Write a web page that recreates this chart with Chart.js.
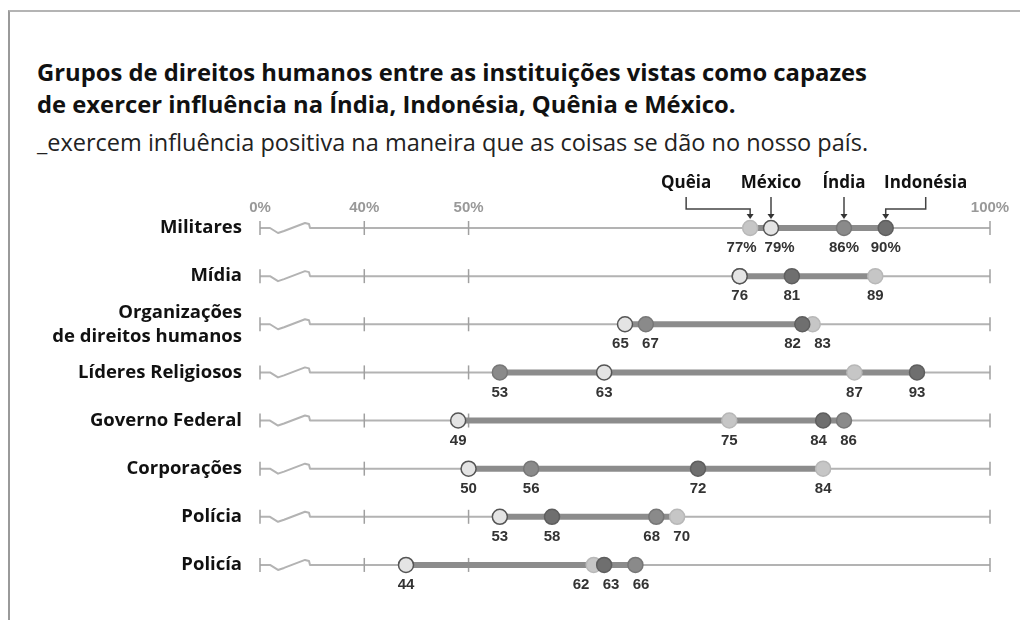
<!DOCTYPE html>
<html>
<head>
<meta charset="utf-8">
<script src="https://cdn.jsdelivr.net/npm/chart.js@4"></script>
<style>
  body { margin: 0; background: #fff; width: 1020px; height: 620px; overflow: hidden; position: relative; font-family: 'Open Sans', sans-serif; }
  .frame { position: absolute; left: 8px; top: 10px; width: 1012px; height: 610px; border-top: 2px solid #b4b4b4; border-left: 2px solid #9a9a9a; box-sizing: border-box; }
  .title { position: absolute; left: 37px; top: 56px; font-size: 23.8px; line-height: 32px; font-weight: 700; color: #111; white-space: nowrap; }
  .subtitle { position: absolute; left: 37px; top: 127px; font-size: 23.5px; line-height: 30px; color: #222; white-space: nowrap; }
  #wrap { position: absolute; left: 0; top: 160px; width: 1020px; height: 460px; }
</style>
</head>
<body>
<div class="frame"></div>
<div class="title">Grupos de direitos humanos entre as instituições vistas como capazes<br>de exercer influência na Índia, Indonésia, Quênia e México.</div>
<div class="subtitle">_exercem influência positiva na maneira que as coisas se dão no nosso país.</div>
<div id="wrap"><canvas id="chart" width="1020" height="460"></canvas></div>
<script>
// categorias (linhas) e valores por país
const categories = ['Militares', 'Mídia', ['Organizações', 'de direitos humanos'], 'Líderes Religiosos',
    'Governo Federal', 'Corporações', 'Polícia', 'Policía'];
const countries = ['Quêia', 'México', 'Índia', 'Indonésia'];
const quenia    = [77, 89, 83, 87, 75, 84, 70, 62];
const mexico    = [79, 76, 65, 63, 49, 50, 53, 44];
const india     = [86, 76, 67, 53, 86, 56, 68, 66];
const indonesia = [90, 81, 82, 93, 84, 72, 58, 63];
// eixo quebrado: "0%" fica no início da escala
const tickValues = [30, 40, 50, 100];
const tickLabels = ['0%', '40%', '50%', '100%'];

const seriesValues = [quenia, mexico, india, indonesia];
const fills   = ['#c6c6c6', '#e4e4e4', '#8a8a8a', '#6f6f6f'];
const borders = ['#b8b8b8', '#555555', '#777777', '#5e5e5e'];
const orders  = [3, 0, 2, 1];

const numFont = 'bold 15px "Liberation Sans", Arial, sans-serif';

function toPoints(vals) {
    return vals.map((v, i) => ({ x: v, y: i }));
}

// linhas de fundo, quebra do eixo e barra de intervalo
const rowsPlugin = {
    id: 'rows',
    beforeDatasetsDraw(chart) {
        const ctx = chart.ctx;
        const xs = chart.scales.x, ys = chart.scales.y;
        const x0 = xs.getPixelForValue(30), x1 = xs.getPixelForValue(100);
        ctx.save();
        categories.forEach((c, i) => {
            const y = ys.getPixelForValue(i);
            ctx.strokeStyle = '#b3b3b3';
            ctx.lineWidth = 2;
            ctx.lineJoin = 'round';
            ctx.beginPath();
            ctx.moveTo(x0, y);
            ctx.lineTo(x0 + 10, y);
            ctx.lineTo(x0 + 18, y + 5);
            ctx.lineTo(x0 + 24, y + 3);
            ctx.lineTo(x0 + 45, y - 5);
            ctx.lineTo(x0 + 49, y - 4);
            ctx.lineTo(x0 + 50, y);
            ctx.lineTo(x1, y);
            ctx.stroke();
            // marcas
            ctx.strokeStyle = '#a0a0a0';
            ctx.lineWidth = 1.5;
            [30, 40, 50, 100].forEach(v => {
                const px = xs.getPixelForValue(v);
                ctx.beginPath();
                ctx.moveTo(px, y - 7);
                ctx.lineTo(px, y + 7);
                ctx.stroke();
            });
            // intervalo entre mínimo e máximo
            const vals = seriesValues.map(s => s[i]);
            const lo = Math.min(...vals), hi = Math.max(...vals);
            ctx.strokeStyle = '#8c8c8c';
            ctx.lineWidth = 6;
            ctx.lineCap = 'butt';
            ctx.beginPath();
            ctx.moveTo(xs.getPixelForValue(lo), y);
            ctx.lineTo(xs.getPixelForValue(hi), y);
            ctx.stroke();
        });
        ctx.restore();
    },
    afterDatasetsDraw(chart) {
        const ctx = chart.ctx;
        const xs = chart.scales.x, ys = chart.scales.y;
        ctx.save();
        // rótulos dos valores
        ctx.font = numFont;
        ctx.fillStyle = '#333';
        ctx.textAlign = 'center';
        ctx.textBaseline = 'middle';
        categories.forEach((c, i) => {
            const y = ys.getPixelForValue(i);
            const uniq = [...new Set(seriesValues.map(s => s[i]))].sort((a, b) => a - b);
            const pos = uniq.map(v => xs.getPixelForValue(v));
            const gap = i === 0 ? 38 : 30;
            for (let pass = 0; pass < 6; pass++) {
                for (let j = 1; j < pos.length; j++) {
                    const d = pos[j] - pos[j - 1];
                    if (d < gap) {
                        pos[j - 1] -= (gap - d) / 2;
                        pos[j] += (gap - d) / 2;
                    }
                }
            }
            uniq.forEach((v, j) => {
                ctx.fillText(i === 0 ? v + '%' : String(v), pos[j], y + 20);
            });
        });

        // legenda com os nomes dos países
        const yTop = ys.getPixelForValue(0);
        const xq = xs.getPixelForValue(quenia[0]);
        const xm = xs.getPixelForValue(mexico[0]);
        const xi = xs.getPixelForValue(india[0]);
        const xd = xs.getPixelForValue(indonesia[0]);
        const labelX = [xq - 64, xm, xi, xd + 40];
        const textY = yTop - 45;
        ctx.font = 'bold 17px "Open Sans", sans-serif';
        ctx.fillStyle = '#111';
        countries.forEach((name, k) => ctx.fillText(name, labelX[k], textY));

        const lineTop = textY + 14, bend = yTop - 19, tip = yTop - 9;
        ctx.strokeStyle = '#444';
        ctx.fillStyle = '#333';
        ctx.lineWidth = 1.5;
        const paths = [
            [[labelX[0], lineTop], [labelX[0], bend], [xq, bend], [xq, tip - 3]],
            [[xm, lineTop], [xm, tip - 3]],
            [[xi, lineTop], [xi, tip - 3]],
            [[labelX[3], lineTop], [labelX[3], bend], [xd, bend], [xd, tip - 3]]
        ];
        paths.forEach(p => {
            ctx.beginPath();
            ctx.moveTo(p[0][0], p[0][1]);
            p.slice(1).forEach(pt => ctx.lineTo(pt[0], pt[1]));
            ctx.stroke();
            const ax = p[p.length - 1][0];
            ctx.beginPath();
            ctx.moveTo(ax - 3.5, tip - 5);
            ctx.lineTo(ax + 3.5, tip - 5);
            ctx.lineTo(ax, tip);
            ctx.closePath();
            ctx.fill();
        });
        ctx.restore();
    }
};

new Chart(document.getElementById('chart'), {
    type: 'scatter',
    data: {
        datasets: countries.map((name, k) => ({
            label: name,
            data: toPoints(seriesValues[k]),
            backgroundColor: fills[k],
            borderColor: borders[k],
            borderWidth: 1.5,
            pointRadius: 7.5,
            pointHoverRadius: 7.5,
            order: orders[k],
            clip: false
        }))
    },
    options: {
        responsive: false,
        animation: false,
        layout: { padding: { left: 0, right: 30, top: 0, bottom: 31 } },
        plugins: { legend: { display: false }, tooltip: { enabled: false } },
        scales: {
            x: {
                type: 'linear',
                position: 'top',
                min: 30,
                max: 100,
                afterBuildTicks: s => { s.ticks = tickValues.map(v => ({ value: v })); },
                afterFit: s => { s.height = 55; },
                grid: { display: false, drawTicks: false },
                border: { display: false },
                ticks: {
                    padding: -2,
                    maxRotation: 0,
                    autoSkip: false,
                    color: '#999',
                    font: { family: '"Liberation Sans", Arial, sans-serif', size: 15, weight: 'bold' },
                    callback: v => tickLabels[tickValues.indexOf(v)]
                }
            },
            y: {
                type: 'linear',
                reverse: true,
                min: -0.27,
                max: 7.5,
                afterBuildTicks: s => { s.ticks = categories.map((c, i) => ({ value: i })); },
                afterFit: s => { s.width = 260; },
                grid: { display: false, drawTicks: false },
                border: { display: false },
                ticks: {
                    padding: 18,
                    autoSkip: false,
                    color: '#111',
                    font: { family: '"Open Sans", sans-serif', size: 18.5, weight: 'bold', lineHeight: 1.3 },
                    callback: (v, idx) => categories[idx]
                }
            }
        }
    },
    plugins: [rowsPlugin]
});
</script>
</body>
</html>
